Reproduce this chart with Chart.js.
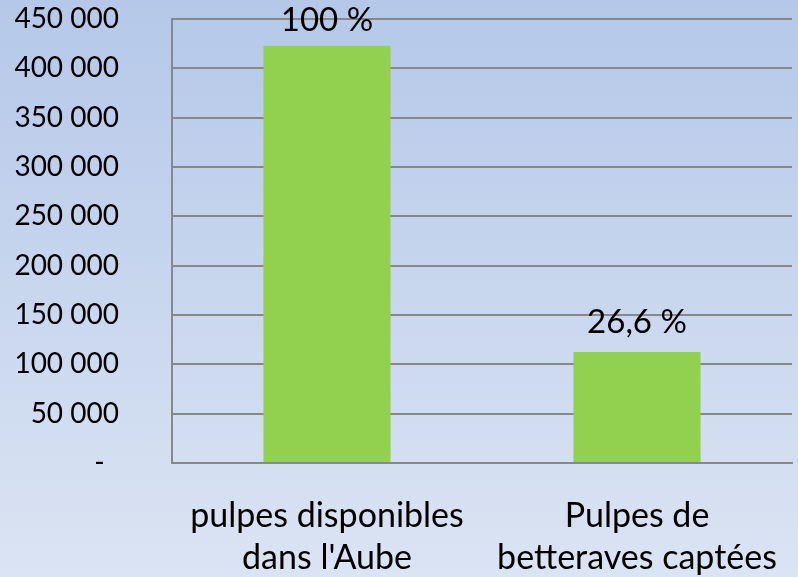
<!DOCTYPE html>
<html>
<head>
<meta charset="utf-8">
<script src="https://cdn.jsdelivr.net/npm/chart.js@4"></script>
<style>
  html, body { margin: 0; padding: 0; background: #dae3f3; }
  canvas { display: block; }
</style>
</head>
<body>
<canvas id="chart" width="798" height="577"></canvas>
<script>
// categories and values
const categories = [
  ['pulpes disponibles', "dans l'Aube"],
  ['Pulpes de', 'betteraves captées']
];
const tonnes = [423000, 112500];
const shareLabels = ['100 %', '26,6 %'];

const FONT = 'Lato, "Open Sans", sans-serif';

// page background: soft blue gradient
const backgroundPlugin = {
  id: 'background',
  beforeDraw(chart) {
    const ctx = chart.ctx;
    const g = ctx.createLinearGradient(0, 0, 0, chart.height);
    g.addColorStop(0, '#b5c8e9');
    g.addColorStop(1, '#dbe4f3');
    ctx.save();
    ctx.fillStyle = g;
    ctx.fillRect(0, 0, chart.width, chart.height);
    ctx.restore();
  }
};

// percentage labels above the bars (kept inside the plot area, like Excel does)
const shareLabelPlugin = {
  id: 'shareLabels',
  afterDatasetsDraw(chart) {
    const ctx = chart.ctx;
    const meta = chart.getDatasetMeta(0);
    ctx.save();
    ctx.font = '33px ' + FONT;
    ctx.fillStyle = '#000';
    ctx.textAlign = 'center';
    ctx.textBaseline = 'alphabetic';
    meta.data.forEach((bar, i) => {
      const y = Math.max(bar.y - 19, chart.chartArea.top + 12);
      ctx.fillText(shareLabels[i], bar.x, y);
    });
    ctx.restore();
  }
};

new Chart(document.getElementById('chart'), {
  type: 'bar',
  data: {
    labels: categories,
    datasets: [{
      data: tonnes,
      backgroundColor: '#92d050',
      barPercentage: 0.41,
      categoryPercentage: 1
    }]
  },
  options: {
    responsive: false,
    animation: false,
    layout: { padding: { top: 19, right: 6, left: 0, bottom: 0 } },
    plugins: {
      legend: { display: false },
      tooltip: { enabled: false }
    },
    scales: {
      x: {
        // invisible tick marks give the label gap without widening the side padding
        grid: {
          display: true,
          color: 'rgba(0,0,0,0)',
          drawTicks: true,
          tickLength: 32,
          tickColor: 'rgba(0,0,0,0)'
        },
        border: { display: true, color: '#888888', width: 2 },
        ticks: {
          color: '#000',
          font: { family: FONT, size: 34, lineHeight: 1.235 },
          padding: 0,
          maxRotation: 0
        },
        afterFit(scale) { scale.height = 114; }
      },
      y: {
        min: 0,
        max: 450000,
        grid: {
          color: '#888888',
          lineWidth: 2,
          drawTicks: true,
          tickLength: 53,
          tickColor: 'rgba(0,0,0,0)'
        },
        border: { display: true, color: '#888888', width: 2 },
        ticks: {
          stepSize: 50000,
          color: '#000',
          padding: 0,
          font: { family: FONT, size: 28 },
          callback(v) {
            if (v === 0) return '-  ';
            return v.toLocaleString('en-US').replace(/,/g, ' ');
          }
        },
        afterFit(scale) { scale.width = 172; }
      }
    }
  },
  plugins: [backgroundPlugin, shareLabelPlugin]
});
</script>
</body>
</html>
